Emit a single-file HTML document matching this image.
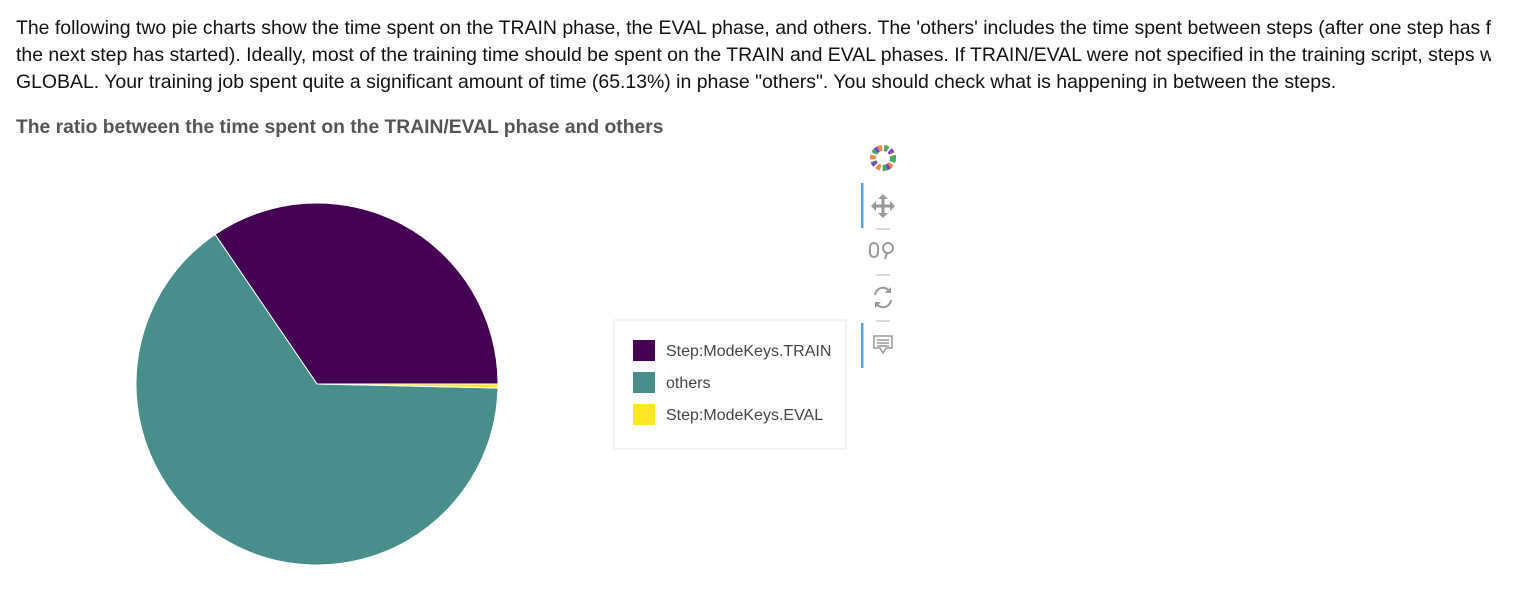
<!DOCTYPE html>
<html><head><meta charset="utf-8"><style>
body{margin:0;width:1516px;height:606px;overflow:hidden;background:#fff;font-family:"Liberation Sans",sans-serif;}
#para{position:absolute;left:16px;top:15px;width:1475px;white-space:nowrap;overflow:hidden;font-size:19.45px;line-height:27px;color:#111;}
#title{position:absolute;left:16px;top:117px;font-size:19.3px;font-weight:bold;color:#555;white-space:nowrap;}
</style></head><body>
<div id="para">The following two pie charts show the time spent on the TRAIN phase, the EVAL phase, and others. The 'others' includes the time spent between steps (after one step has finished and before<br>the next step has started). Ideally, most of the training time should be spent on the TRAIN and EVAL phases. If TRAIN/EVAL were not specified in the training script, steps will be recorded as<br>GLOBAL. Your training job spent quite a significant amount of time (65.13%) in phase "others". You should check what is happening in between the steps.</div>
<div id="title">The ratio between the time spent on the TRAIN/EVAL phase and others</div>
<svg id="chart" width="1516" height="606" style="position:absolute;left:0;top:0">
<g id="slices"></g>
<g id="legend">
<rect x="614" y="320" width="232" height="129" fill="#fff" stroke="#e5e5e5"/>
</g>
<g>
<g>
<circle cx="883" cy="158" r="10" fill="none" stroke="#e84" stroke-width="6" stroke-dasharray="4 2"/>
<circle cx="883" cy="158" r="10" fill="none" stroke="#4a6" stroke-width="6" stroke-dasharray="4 8"/>
<circle cx="883" cy="158" r="10" fill="none" stroke="#74c" stroke-width="6" stroke-dasharray="3 12" stroke-dashoffset="6"/>
</g>
<rect x="861" y="183" width="2.5" height="45" fill="#5aa2d4"/>
<g fill="#999" stroke="#999">
<line x1="873" y1="206" x2="893" y2="206" stroke-width="3"/><line x1="883" y1="196" x2="883" y2="216" stroke-width="3"/>
<path d="M871 206l5-5v10z M895 206l-5-5v10z M883 194l-5 5h10z M883 218l-5-5h10z" stroke="none"/></g>
<line x1="876" y1="229" x2="890" y2="229" stroke="#ccc" stroke-width="1.5"/>
<g fill="none" stroke="#999" stroke-width="2">
<rect x="870" y="243" width="8" height="14" rx="4"/><circle cx="888" cy="248" r="5"/><line x1="887" y1="253" x2="885" y2="259"/></g>
<line x1="876" y1="275" x2="890" y2="275" stroke="#ccc" stroke-width="1.5"/>
<g fill="none" stroke="#999" stroke-width="2">
<path d="M875 295a8 8 0 0 1 15-3 M891 300a8 8 0 0 1-15 3"/>
<path d="M891 287v6h-6z M875 308v-6h6z" fill="#999" stroke="none"/></g>
<line x1="876" y1="321" x2="890" y2="321" stroke="#ccc" stroke-width="1.5"/>
<rect x="861" y="323" width="2.5" height="45" fill="#5aa2d4"/>
<g fill="none" stroke="#999" stroke-width="1.5">
<path d="M874 336h18v12h-6l-3 5-3-5h-6z"/><line x1="877" y1="340" x2="889" y2="340"/><line x1="877" y1="343" x2="889" y2="343"/><line x1="877" y1="346" x2="889" y2="346"/></g>
</g>
</svg>
<script>
const categories=["Step:ModeKeys.TRAIN","others","Step:ModeKeys.EVAL"];
const values=[34.52,65.13,0.35];
const colors=["#440154","#488f8b","#fde725"];
const cx=317,cy=384,r=181;
const ns="http://www.w3.org/2000/svg";
const g=document.getElementById('slices');
const total=values.reduce((a,b)=>a+b,0);
let a0=0;
function pt(a){return [cx+r*Math.cos(a),cy-r*Math.sin(a)];}
values.forEach((v,i)=>{
  const a1=a0+v/total*2*Math.PI;
  const p0=pt(a0),p1=pt(a1);
  const large=(a1-a0)>Math.PI?1:0;
  const p=document.createElementNS(ns,'path');
  p.setAttribute('d',`M${cx} ${cy}L${p0[0]} ${p0[1]}A${r} ${r} 0 ${large} 0 ${p1[0]} ${p1[1]}Z`);
  p.setAttribute('fill',colors[i]);
  p.setAttribute('stroke','#fff');
  p.setAttribute('stroke-width','1');
  
  
  g.appendChild(p);
  a0=a1;
});
const lg=document.getElementById('legend');
categories.forEach((c,i)=>{
  const y=340+i*32;
  const rc=document.createElementNS(ns,'rect');
  rc.setAttribute('x',633);rc.setAttribute('y',y);rc.setAttribute('width',22);rc.setAttribute('height',21);
  rc.setAttribute('fill',colors[i]);
  
  
  lg.appendChild(rc);
  const t=document.createElementNS(ns,'text');
  t.setAttribute('x',666);t.setAttribute('y',y+16);
  t.setAttribute('font-size','16');t.setAttribute('fill','#444');
  t.setAttribute('font-family','Liberation Sans, sans-serif');
  t.textContent=c;
  
  
  lg.appendChild(t);
});
</script>
</body></html>
